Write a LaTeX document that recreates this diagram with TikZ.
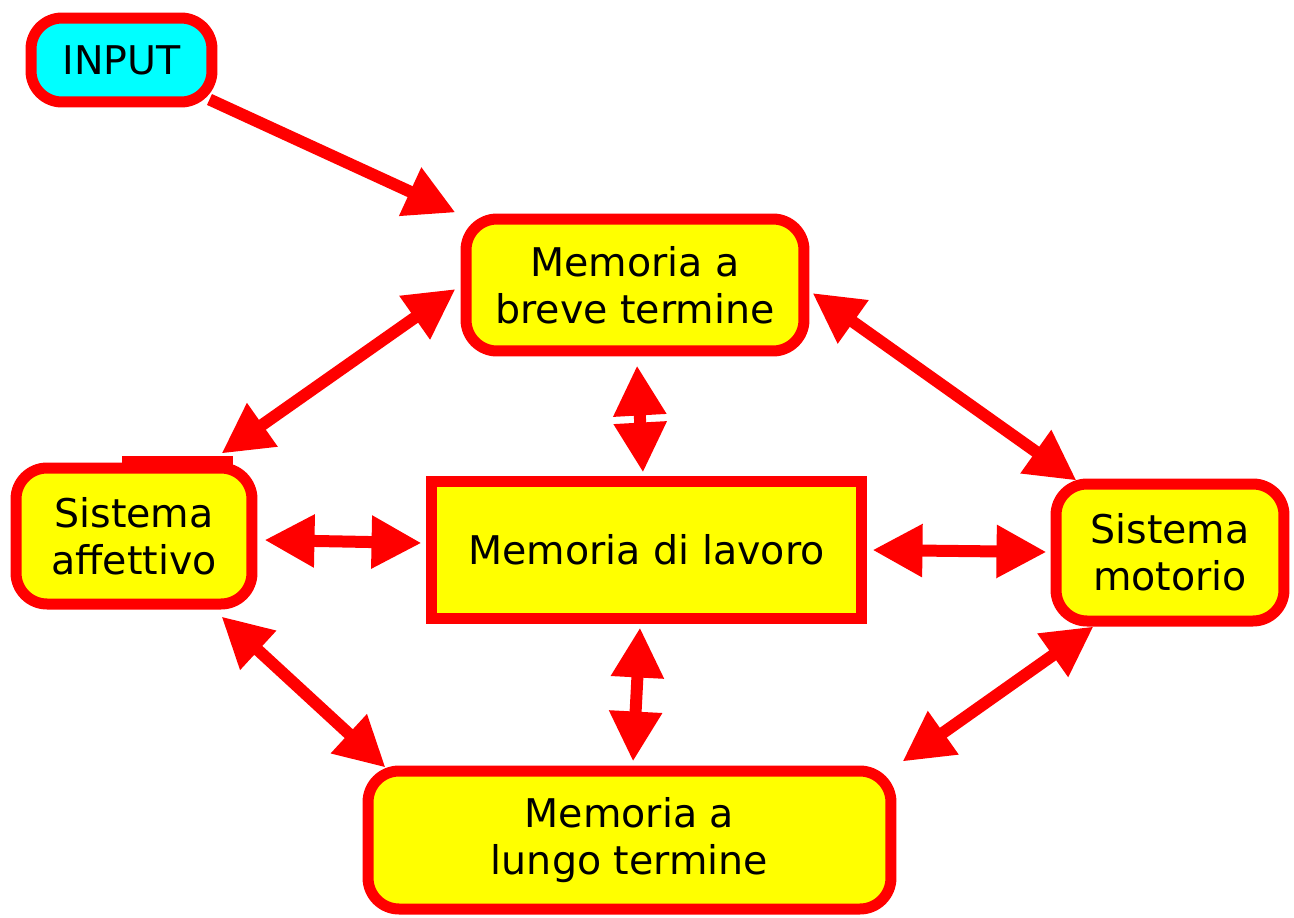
\documentclass[tikz,border=0pt]{standalone}
\usepackage{fontspec}
\setmainfont{DejaVu Sans}
\usepackage{tikz}
\usetikzlibrary{arrows.meta,calc}
\definecolor{bordo}{rgb}{1,0,0}
\definecolor{giallo}{rgb}{1,1,0}
\definecolor{ciano}{rgb}{0,1,1}

\begin{document}
\begin{tikzpicture}[x=0.02cm,y=-0.02cm, box/.style={draw=bordo,line width=0.22cm,rounded corners=0.62cm,fill=giallo,
  align=center,inner sep=0pt,font=\fontsize{22.5}{26.5}\selectfont}, link/.style={draw=bordo,line width=0.24cm,<->},
  >={Triangle[length=1cm,width=1cm]}]
  \useasboundingbox[fill=white] (0,0) rectangle (1294,917);
  \node[box,fill=ciano,minimum width=3.62cm,minimum height=1.68cm] (inp) at (121.5,60) {INPUT};
  \node[box,minimum width=6.76cm,minimum height=2.64cm] (bre) at (635,285) {Memoria a\\breve termine};
  \node[box,minimum width=4.72cm,minimum height=2.72cm] (aff) at (134,536) {Sistema\\affettivo};
  \node[box,sharp corners,minimum width=8.62cm,minimum height=2.74cm] (lav) at (646.5,549.5) {Memoria di lavoro};
  \node[box,minimum width=4.56cm,minimum height=2.74cm] (mot) at (1170,552.5) {Sistema\\motorio};
  \node[box,minimum width=10.46cm,minimum height=2.76cm] (lun) at (629.5,840) {Memoria a\\lungo termine};
  \fill[bordo] ($(aff.north)+(-12,-7)$) rectangle ($(aff.north)+(99,3)$);
  \draw[link,-{Triangle[length=1cm,width=1cm]}] ($(inp.south east)+(-8,-8)$)--($(bre.north west)+(-5,-1)$);
  \draw[link]($(bre.west)+(-5,4)$)--($(aff.north east)+(-36,-9)$);
  \draw[link]($(bre.east)+(3,8)$)--($(mot.north west)+(26,2)$);
  \draw[link]($(bre.south)+(2,9)$)--($(lav.north)+(-3.5,-3)$);
  \draw[link]($(aff.east)+(7,4)$)--($(lav.west)+(-4,-6.5)$);
  \draw[link]($(lav.east)+(5,0.5)$)--($(mot.west)+(-4,-0.5)$);
  \draw[link]($(aff.south east)+(-36,7)$)--($(lun.north west)+(23,2)$);
  \draw[link]($(lav.south)+(-6.5,4)$)--($(lun.north)+(3.5,-4)$);
  \draw[link]($(mot.south west)+(43,0)$)--($(lun.north east)+(6,-4)$);
\end{tikzpicture}
\end{document}
